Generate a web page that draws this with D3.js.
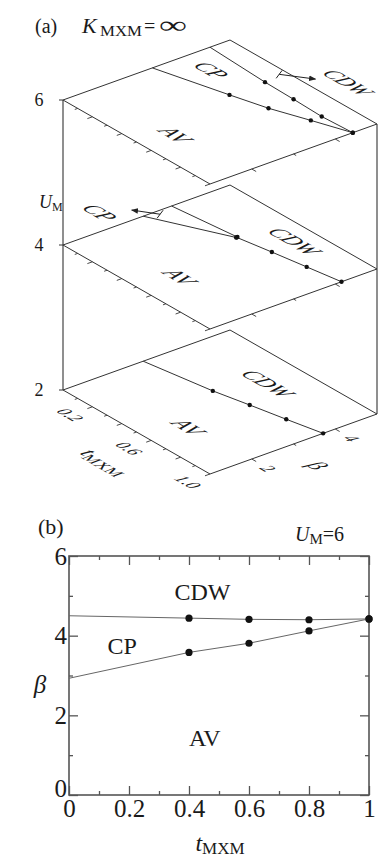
<!DOCTYPE html>
<html>
<head>
<meta charset="utf-8">
<script src="https://cdn.jsdelivr.net/npm/d3@7"></script>
<style>
  body { margin: 0; background: #fff; }
  text { font-family: "Liberation Serif", "Times New Roman", serif; fill: #1a1a1a; }
</style>
</head>
<body>
<svg id="chart" width="382" height="858"></svg>
<script>
// ---- data ----
// panel (b), U_M = 6
var tPts = [0, 0.4, 0.6, 0.8, 1.0]
var betaCpCdw = [4.50, 4.44, 4.41, 4.40, 4.42]
var betaAvCp = [2.93, 3.58, 3.81, 4.12, 4.42]

// panel (a), one plane per U_M
var planeU = [2, 4, 6]
var u6AvCp = [3.14, 3.58, 3.81, 4.12, 4.42]
var u6CpCdw = [4.52, 4.43, 4.41, 4.38, 4.42]
var u4TCp = [0, 0.4]
var u4AvCp = [2.92, 3.74]
var u4CpCdw = [3.60, 3.77]
var u4TCdw = [0.4, 0.6, 0.8, 1.0]
var u4AvCdw = [3.75, 3.89, 4.02, 4.15]
var u2AvCdw = [2.92, 3.18, 3.36, 3.53, 3.71]

// ticks
var bXMajor = [0, 0.2, 0.4, 0.6, 0.8, 1]
var bXMinor = [0.1, 0.3, 0.5, 0.7, 0.9]
var bYMajor = [0, 2, 4, 6]
var bYMinor = [1, 3, 5]
var aTTicks = [0.1, 0.2, 0.3, 0.4, 0.5, 0.6, 0.7, 0.8, 0.9, 1.0]
var aTLabels = [0.2, 0.6, 1.0]
var aBTicks = [2, 3, 4]
var aBLabels = [2, 4]

var svg = d3.select('#chart')
var lineCol = '#333'

// ================= panel (a) =================
// oblique projection: t runs down-right, beta runs up-right, U straight up
var uY = d3.scaleLinear().domain([2, 6]).range([390, 100])
var tX = d3.scaleLinear().domain([0, 1]).range([0, 147])
var tY = d3.scaleLinear().domain([0, 1]).range([0, 84])
var bX = d3.scaleLinear().domain([1, 5]).range([0, 167])
var bY = d3.scaleLinear().domain([1, 5]).range([0, -60])
var ox = 63
function proj (t, b, u) {
  return [ox + tX(t) + bX(b), uY(u) + tY(t) + bY(b)]
}
// unit vectors for text lying on a plane
var tu = [147 / Math.hypot(147, 84), 84 / Math.hypot(147, 84)]
var bu = [167 / Math.hypot(167, 60), -60 / Math.hypot(167, 60)]
function onPlane (p) {
  return 'matrix(' + tu[0] + ',' + tu[1] + ',' + (-bu[0]) + ',' + (-bu[1]) + ',' + p[0] + ',' + p[1] + ')'
}

var defs = svg.append('defs')
defs.append('marker')
  .attr('id', 'arr')
  .attr('viewBox', '0 0 10 10')
  .attr('refX', 9).attr('refY', 5)
  .attr('markerWidth', 7).attr('markerHeight', 7)
  .attr('orient', 'auto')
  .append('path')
  .attr('d', 'M0,1L10,5L0,9Z')
  .attr('fill', '#222')

var g3 = svg.append('g')

// vertical U axis (left) and right edge
g3.append('line')
  .attr('x1', proj(0, 1, 2)[0]).attr('y1', proj(0, 1, 2)[1])
  .attr('x2', proj(0, 1, 6)[0]).attr('y2', proj(0, 1, 6)[1])
  .attr('stroke', lineCol).attr('stroke-width', 1.1)
g3.append('line')
  .attr('x1', proj(1, 5, 2)[0]).attr('y1', proj(1, 5, 2)[1])
  .attr('x2', proj(1, 5, 6)[0]).attr('y2', proj(1, 5, 6)[1])
  .attr('stroke', lineCol).attr('stroke-width', 1.1)

planeU.forEach(function (u) {
  var p0 = proj(0, 1, u)
  // U tick + label
  g3.append('line')
    .attr('x1', p0[0] - 4).attr('y1', p0[1])
    .attr('x2', p0[0]).attr('y2', p0[1])
    .attr('stroke', lineCol)
  g3.append('text')
    .attr('x', p0[0] - 24).attr('y', p0[1] + 6)
    .attr('text-anchor', 'middle')
    .attr('font-size', 18)
    .text(u)

  // plane outline
  var corners = [proj(0, 1, u), proj(0, 5, u), proj(1, 5, u), proj(1, 1, u)]
  g3.append('path')
    .attr('d', d3.line()(corners) + 'Z')
    .attr('fill', 'none')
    .attr('stroke', lineCol)
    .attr('stroke-width', 1)

  // t ticks on the front-left edge
  aTTicks.forEach(function (t, i) {
    var len = (i % 2 === 1) ? 0.12 : 0.07
    var a = proj(t, 1, u)
    var b = proj(t, 1 - len, u)
    g3.append('line')
      .attr('x1', a[0]).attr('y1', a[1]).attr('x2', b[0]).attr('y2', b[1])
      .attr('stroke', lineCol).attr('stroke-width', 0.9)
  })
  // beta ticks on the front-right edge
  aBTicks.forEach(function (bb) {
    var len = (bb % 2 === 0) ? 0.03 : 0.018
    var a = proj(1, bb, u)
    var b = proj(1 + len, bb, u)
    g3.append('line')
      .attr('x1', a[0]).attr('y1', a[1]).attr('x2', b[0]).attr('y2', b[1])
      .attr('stroke', lineCol).attr('stroke-width', 0.9)
  })
})

// phase boundaries in the planes
function line3 (u) {
  return d3.line()
    .x(function (d) { return proj(d[0], d[1], u)[0] })
    .y(function (d) { return proj(d[0], d[1], u)[1] })
}
function boundary (ts, bs, u, dotFrom) {
  var pts = ts.map(function (t, i) { return [t, bs[i]] })
  g3.append('path')
    .datum(pts)
    .attr('d', line3(u))
    .attr('fill', 'none')
    .attr('stroke', lineCol)
    .attr('stroke-width', 1)
  g3.selectAll(null)
    .data(pts.slice(dotFrom))
    .enter().append('circle')
    .attr('cx', function (d) { return proj(d[0], d[1], u)[0] })
    .attr('cy', function (d) { return proj(d[0], d[1], u)[1] })
    .attr('r', 2.2)
    .attr('fill', '#111')
}
boundary(tPts, u6AvCp, 6, 1)
boundary(tPts, u6CpCdw, 6, 1)
boundary(u4TCp, u4AvCp, 4, 1)
boundary(u4TCp, u4CpCdw, 4, 1)
boundary(u4TCdw, u4AvCdw, 4, 0)
boundary(tPts, u2AvCdw, 2, 1)

// arrows pointing to labels
function arrow3 (from, to, u) {
  var a = proj(from[0], from[1], u)
  var b = proj(to[0], to[1], u)
  g3.append('line')
    .attr('x1', a[0]).attr('y1', a[1]).attr('x2', b[0]).attr('y2', b[1])
    .attr('stroke', '#222').attr('stroke-width', 1)
    .attr('marker-end', 'url(#arr)')
  g3.append('line')
    .attr('x1', a[0] - 3).attr('y1', a[1] + 4).attr('x2', a[0] + 3).attr('y2', a[1] - 4)
    .attr('stroke', '#222').attr('stroke-width', 1)
}
arrow3([0.38, 4.84], [0.51, 5.25], 6)
arrow3([0.03, 3.22], [-0.075, 2.91], 4)

// labels lying on the planes
function planeText (txt, t, b, u, size, italic) {
  return g3.append('text')
    .attr('transform', onPlane(proj(t, b, u)))
    .attr('text-anchor', 'middle')
    .attr('dy', '0.35em')
    .attr('font-size', size)
    .attr('font-style', italic ? 'italic' : null)
    .text(txt)
}
planeText('CP', 0.17, 3.95, 6, 22, true)
planeText('CDW', 0.62, 5.64, 6, 21, true)
planeText('AV', 0.55, 1.76, 6, 22, true)
planeText('CP', -0.14, 2.37, 4, 22, true)
planeText('CDW', 0.58, 4.5, 4, 22, true)
planeText('AV', 0.54, 1.9, 4, 22, true)
planeText('CDW', 0.49, 4.18, 2, 22, true)
planeText('AV', 0.6, 1.89, 2, 22, true)

aTLabels.forEach(function (t) {
  planeText(d3.format('.1f')(t), t, 0.47, 2, 17, true)
})
aBLabels.forEach(function (b) {
  planeText(b, 1.11, b, 2, 17, true)
})
// axis titles
var tTitle = g3.append('text')
  .attr('transform', onPlane(proj(0.64, -0.22, 2)))
  .attr('text-anchor', 'middle')
  .attr('dy', '0.35em')
  .attr('font-size', 22)
tTitle.append('tspan').attr('font-style', 'italic').text('t')
tTitle.append('tspan').attr('font-size', 16).attr('dy', 4).text('MXM')
planeText('\u03b2', 1.22, 2.8, 2, 22, true)

// U_M axis title
var uTitle = g3.append('text').attr('x', 39).attr('y', 208).attr('font-size', 18)
uTitle.append('tspan').attr('font-style', 'italic').text('U')
uTitle.append('tspan').attr('font-size', 12).attr('dy', 3).text('M')

// panel title
svg.append('text').attr('x', 35).attr('y', 33).attr('font-size', 20).text('(a)')
svg.append('text').attr('x', 82).attr('y', 33).attr('font-size', 22).attr('font-style', 'italic').text('K')
svg.append('text').attr('x', 100).attr('y', 36).attr('font-size', 14)
  .attr('textLength', 42).attr('lengthAdjust', 'spacingAndGlyphs').text('MXM')
svg.append('text').attr('x', 144).attr('y', 33).attr('font-size', 20).text('=')
svg.append('text').attr('x', 159).attr('y', 33).attr('font-size', 24)
  .attr('textLength', 28).attr('lengthAdjust', 'spacingAndGlyphs').text('\u221e')

// ================= panel (b) =================
var xb = d3.scaleLinear().domain([0, 1]).range([69, 369])
var yb = d3.scaleLinear().domain([0, 6]).range([795, 556])
var gb = svg.append('g')
var axisCol = '#555'

function styleAxis (sel) {
  sel.select('.domain').remove()
  sel.selectAll('.tick line').attr('stroke', axisCol).attr('stroke-width', 1.3)
  sel.selectAll('.tick text')
    .attr('font-family', '"Liberation Serif", "Times New Roman", serif')
    .attr('font-size', 25)
    .attr('fill', '#1a1a1a')
  sel.attr('font-family', null).attr('font-size', null)
}
var fmt = d3.format('~g')
gb.append('g').attr('transform', 'translate(0,' + yb(0) + ')')
  .call(d3.axisBottom(xb).tickValues(bXMajor).tickSize(-9).tickSizeOuter(0).tickPadding(4).tickFormat(fmt))
  .call(styleAxis)
gb.append('g').attr('transform', 'translate(0,' + yb(0) + ')')
  .call(d3.axisBottom(xb).tickValues(bXMinor).tickSize(-4).tickSizeOuter(0).tickFormat(''))
  .call(styleAxis)
gb.append('g').attr('transform', 'translate(0,' + yb(6) + ')')
  .call(d3.axisTop(xb).tickValues(bXMajor).tickSize(-9).tickSizeOuter(0).tickFormat(''))
  .call(styleAxis)
gb.append('g').attr('transform', 'translate(0,' + yb(6) + ')')
  .call(d3.axisTop(xb).tickValues(bXMinor).tickSize(-4).tickSizeOuter(0).tickFormat(''))
  .call(styleAxis)
gb.append('g').attr('transform', 'translate(' + xb(0) + ',0)')
  .call(d3.axisLeft(yb).tickValues(bYMajor).tickSize(-9).tickSizeOuter(0).tickPadding(2).tickFormat(fmt))
  .call(styleAxis)
  .call(function (sel) {
    // the corner 0 sits a little higher so it clears the x-axis 0
    sel.selectAll('.tick text').filter(function (d) { return d === 0 }).attr('dy', '0.05em')
  })
gb.append('g').attr('transform', 'translate(' + xb(0) + ',0)')
  .call(d3.axisLeft(yb).tickValues(bYMinor).tickSize(-4).tickSizeOuter(0).tickFormat(''))
  .call(styleAxis)
gb.append('g').attr('transform', 'translate(' + xb(1) + ',0)')
  .call(d3.axisRight(yb).tickValues(bYMajor).tickSize(-9).tickSizeOuter(0).tickFormat(''))
  .call(styleAxis)
gb.append('g').attr('transform', 'translate(' + xb(1) + ',0)')
  .call(d3.axisRight(yb).tickValues(bYMinor).tickSize(-4).tickSizeOuter(0).tickFormat(''))
  .call(styleAxis)

gb.append('rect')
  .attr('x', xb(0)).attr('y', yb(6))
  .attr('width', xb(1) - xb(0)).attr('height', yb(0) - yb(6))
  .attr('fill', 'none').attr('stroke', axisCol).attr('stroke-width', 1.6)

var lineB = d3.line()
  .x(function (d) { return xb(d[0]) })
  .y(function (d) { return yb(d[1]) })
;[betaCpCdw, betaAvCp].forEach(function (bs) {
  var pts = tPts.map(function (t, i) { return [t, bs[i]] })
  gb.append('path').datum(pts)
    .attr('d', lineB)
    .attr('fill', 'none').attr('stroke', '#666').attr('stroke-width', 1)
  gb.selectAll(null).data(pts.slice(1)).enter()
    .append('circle')
    .attr('cx', function (d) { return xb(d[0]) })
    .attr('cy', function (d) { return yb(d[1]) })
    .attr('r', 3.6)
    .attr('fill', '#111')
})

function bText (txt, x, y) {
  gb.append('text')
    .attr('x', xb(x)).attr('y', yb(y))
    .attr('dy', '0.35em')
    .attr('text-anchor', 'middle')
    .attr('font-size', 24)
    .text(txt)
}
bText('CDW', 0.445, 5.1)
bText('CP', 0.177, 3.75)
bText('AV', 0.453, 1.45)

gb.append('text').attr('x', 40).attr('y', 684).attr('dy', '0.35em')
  .attr('text-anchor', 'middle').attr('font-size', 25).attr('font-style', 'italic')
  .text('\u03b2')
var xTitle = gb.append('text').attr('x', 220).attr('y', 851)
  .attr('text-anchor', 'middle').attr('font-size', 24)
xTitle.append('tspan').attr('font-style', 'italic').text('t')
xTitle.append('tspan').attr('font-size', 17).attr('dy', 3).text('MXM')

svg.append('text').attr('x', 38).attr('y', 534).attr('font-size', 22).text('(b)')
var uLab = svg.append('text').attr('x', 295).attr('y', 541).attr('font-size', 20)
uLab.append('tspan').attr('font-style', 'italic').text('U')
uLab.append('tspan').attr('font-size', 15).attr('dy', 3).text('M')
uLab.append('tspan').attr('dy', -3).text('=6')
</script>
</body>
</html>
